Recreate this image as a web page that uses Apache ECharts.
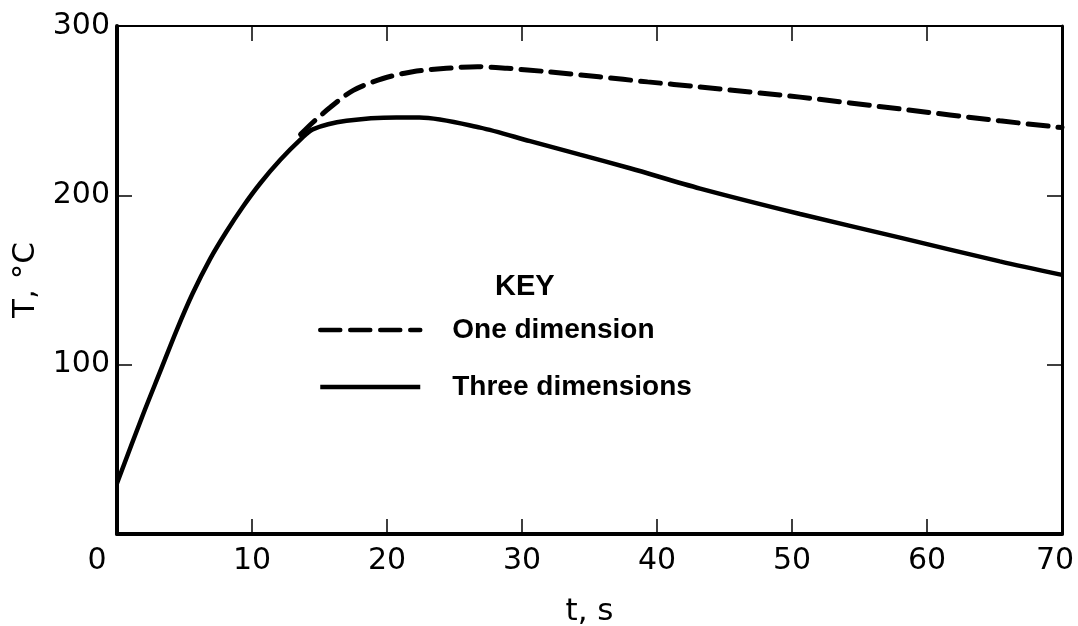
<!DOCTYPE html>
<html>
<head>
<meta charset="utf-8">
<script src="https://cdn.jsdelivr.net/npm/echarts@6/dist/echarts.min.js"></script>
<style>
html,body{margin:0;padding:0;background:#fff;}
#chart{width:1078px;height:626px;}
</style>
</head>
<body>
<div id="chart"></div>
<script>
// Data (t in s, T in °C)
const seriesNames = ['One dimension', 'Three dimensions'];
const oneDimension = [
  [13.6, 236], [14.5, 243], [15.8, 252], [17.5, 262], [19.7, 269], [21.9, 273],
  [24.4, 275], [26.7, 276], [28.9, 275], [31.9, 273], [35.7, 270], [39.3, 267],
  [43.2, 264], [50.6, 258], [58, 251], [65.4, 244], [70, 240]
];
const threeDimensions = [
  [0, 30], [1.9, 70], [3.2, 96], [4.4, 120], [5.6, 142], [6.9, 162.5], [8.1, 178.5],
  [9.3, 193], [10.6, 207], [12.1, 221], [13.6, 233], [14.5, 239], [17, 244],
  [20.7, 246], [22.4, 246], [26.9, 240], [30.6, 232], [34.3, 224], [38, 216],
  [43.2, 204], [50.6, 189], [58, 175], [65.4, 161], [70, 153]
];
const xTicks = [0, 10, 20, 30, 40, 50, 60, 70];
const yTicks = [100, 200, 300];

const chart = echarts.init(document.getElementById('chart'));
const numFont = 'DejaVu Sans';
function axisBase(lineWidth) {
  return {
    type: 'value',
    splitLine: { show: false },
    axisLine: { show: true, onZero: false, lineStyle: { color: '#000', width: lineWidth } },
    axisTick: { show: true, inside: true, length: 15, lineStyle: { color: '#000', width: 1.5 } }
  };
}
chart.setOption({
  backgroundColor: '#fff',
  animation: false,
  grid: { left: 117, right: 16, top: 26, bottom: 92, containLabel: false, outerBoundsMode: 'none' },
  legend: {
    orient: 'vertical',
    left: 313,
    top: 311,
    itemWidth: 100,
    itemHeight: 28,
    itemGap: 29,
    data: seriesNames,
    lineStyle: { width: 4.5 },
    itemStyle: { opacity: 0, color: 'rgba(0,0,0,0)', borderWidth: 0 },
    textStyle: { fontFamily: 'Liberation Sans', fontWeight: 'bold', fontSize: 28, color: '#000', padding: [0, 0, 0, 27] }
  },
  graphic: [{
    type: 'text', left: 495, top: 272,
    style: { text: 'KEY', font: 'bold 29px "Liberation Sans"', fill: '#000' }
  }],
  xAxis: [
    Object.assign(axisBase(4), {
      min: 0, max: 70, interval: 10, position: 'bottom',
      name: 't, s', nameLocation: 'middle', nameGap: 62,
      nameTextStyle: { fontFamily: numFont, fontSize: 31, color: '#000' },
      axisLabel: {
        margin: 12, color: '#000', fontFamily: numFont, fontSize: 30,
        formatter: function (v) {
          if (v === 0) return '{z|0}';
          if (v === 70) return '{s|70}';
          return xTicks.indexOf(v) >= 0 ? String(v) : '';
        },
        rich: {
          z: { fontFamily: numFont, fontSize: 30, color: '#000', padding: [0, 40, 0, 0] },
          s: { fontFamily: numFont, fontSize: 30, color: '#000', padding: [0, 14, 0, 0] }
        }
      }
    }),
    Object.assign(axisBase(2), {
      min: 0, max: 70, interval: 10, position: 'top',
      axisLabel: { show: false }
    })
  ],
  yAxis: [
    Object.assign(axisBase(4), {
      min: 0, max: 300, interval: 100, position: 'left',
      name: 'T, °C', nameLocation: 'middle', nameGap: 72, nameRotate: 90,
      nameTextStyle: { fontFamily: numFont, fontSize: 31, color: '#000' },
      axisLabel: {
        margin: 7, color: '#000', fontFamily: numFont, fontSize: 30,
        formatter: function (v) { return yTicks.indexOf(v) >= 0 ? String(v) : ''; }
      }
    }),
    Object.assign(axisBase(3), {
      min: 0, max: 300, interval: 100, position: 'right',
      axisLabel: { show: false }
    })
  ],
  series: [
    {
      name: seriesNames[0], type: 'line', data: oneDimension, smooth: 0.3,
      showSymbol: false, symbol: 'none', xAxisIndex: 0, yAxisIndex: 0,
      lineStyle: { color: '#000', width: 5, type: [20, 10], cap: 'round' },
      itemStyle: { color: '#000' }, z: 3
    },
    {
      name: seriesNames[1], type: 'line', data: threeDimensions, smooth: 0.3,
      showSymbol: false, symbol: 'none', xAxisIndex: 0, yAxisIndex: 0,
      lineStyle: { color: '#000', width: 4.5, type: 'solid' },
      itemStyle: { color: '#000' }, z: 4
    }
  ]
});
</script>
</body>
</html>
